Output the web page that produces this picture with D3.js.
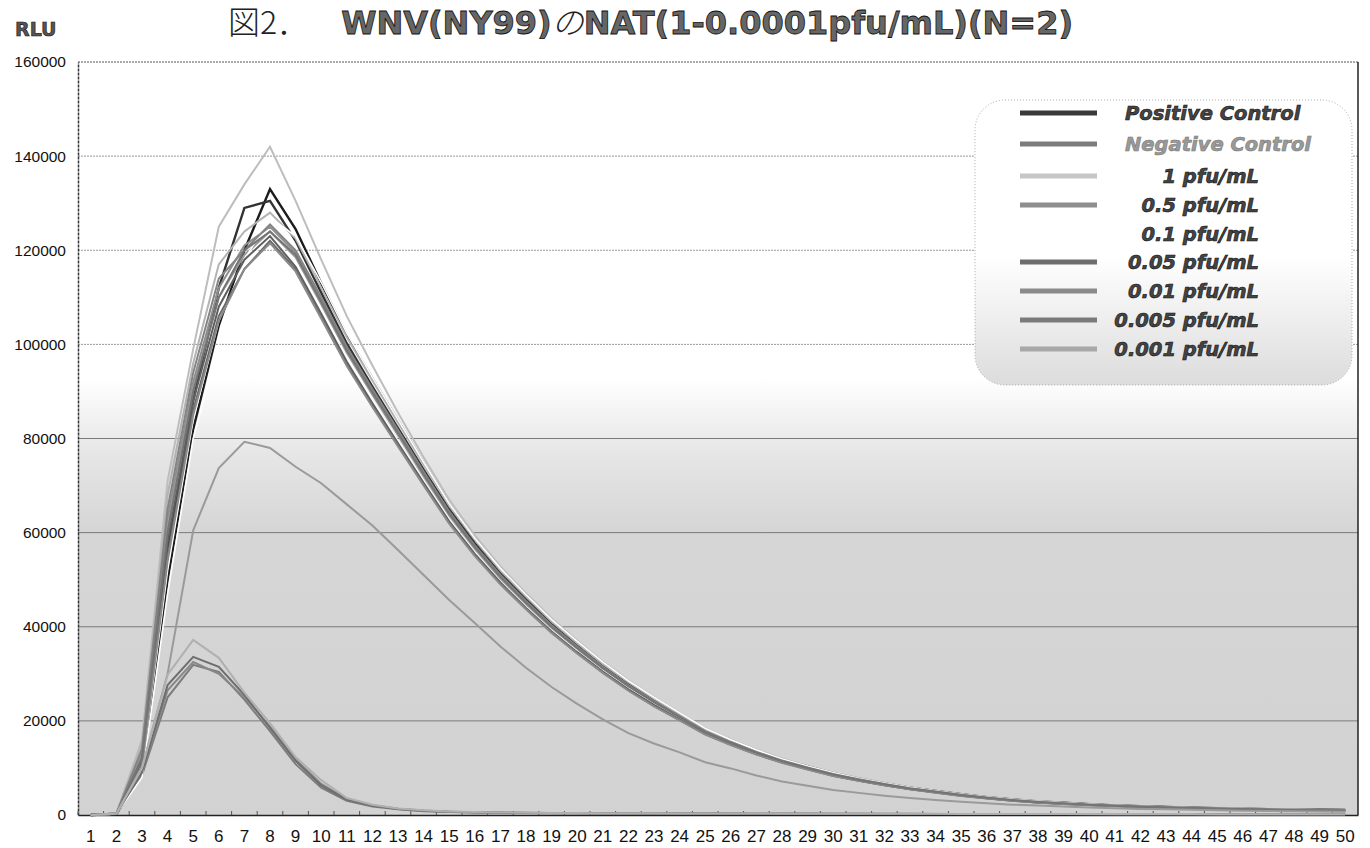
<!DOCTYPE html>
<html>
<head>
<meta charset="utf-8">
<script src="https://cdn.jsdelivr.net/npm/d3@7"></script>
<style>
  body { margin: 0; background: #fff; }
  svg { display: block; }
</style>
</head>
<body>
<svg id="chart" width="1370" height="848"></svg>
<script>
// cycles on the x axis
var cycles = d3.range(1, 51);
var yTicks = [0, 20000, 40000, 60000, 80000, 100000, 120000, 140000, 160000];

// RLU readings (two runs per sample)
var posA = [0, 200, 9000, 50000, 82000, 104000, 120000, 133000, 124500, 113000, 102000, 92800, 83800, 74800, 66000, 58600, 52200, 46600, 41300, 36700, 32300, 28300, 24800, 21500, 18200, 15900, 13700, 11800, 10300, 8900, 7700, 6700, 5800, 5100, 4400, 3800, 3300, 2900, 2600, 2300, 2050, 1850, 1700, 1550, 1450, 1350, 1250, 1150, 1100, 1050];
var posB = [0, 250, 11000, 56000, 88000, 112000, 129000, 130500, 122000, 111000, 100200, 91000, 82200, 73400, 64900, 57700, 51300, 45800, 40600, 36000, 31700, 27800, 24400, 21100, 17900, 15600, 13500, 11700, 10200, 8800, 7650, 6650, 5750, 5000, 4300, 3750, 3250, 2850, 2500, 2250, 2000, 1800, 1650, 1500, 1400, 1300, 1200, 1100, 1050, 1000];
var negA = [0, 250, 8500, 25000, 31900, 30400, 24500, 17800, 10800, 5800, 3000, 1800, 1200, 800, 620, 520, 460, 420, 390, 360, 340, 320, 300, 290, 280, 270, 260, 250, 240, 235, 230, 225, 220, 215, 210, 205, 200, 195, 190, 185, 180, 175, 170, 165, 160, 155, 150, 150, 145, 140];
var negB = [0, 250, 8800, 26500, 32500, 30000, 25000, 18800, 11800, 6600, 3400, 2100, 1350, 950, 700, 580, 500, 450, 410, 380, 360, 340, 320, 305, 295, 285, 275, 265, 255, 248, 240, 233, 226, 220, 214, 208, 202, 197, 192, 187, 182, 177, 172, 167, 163, 159, 155, 151, 147, 143];
var p1A = [0, 300, 16000, 71000, 99000, 125000, 134000, 142000, 130500, 118000, 106000, 95500, 85500, 76000, 67000, 59400, 52800, 47100, 41800, 37100, 32600, 28600, 25000, 21700, 18400, 16000, 13900, 12000, 10400, 9000, 7850, 6850, 5900, 5150, 4450, 3850, 3350, 2950, 2600, 2300, 2050, 1850, 1700, 1550, 1450, 1350, 1250, 1150, 1100, 1050];
var p1B = [0, 300, 15000, 68000, 96000, 117000, 124000, 128000, 122500, 112000, 101500, 92300, 83400, 74500, 65800, 58500, 52000, 46400, 41100, 36500, 32100, 28200, 24700, 21400, 18100, 15800, 13650, 11800, 10250, 8850, 7700, 6700, 5800, 5050, 4350, 3780, 3280, 2880, 2550, 2280, 2020, 1820, 1680, 1530, 1420, 1320, 1220, 1120, 1070, 1020];
var p05A = [0, 250, 13000, 63000, 92000, 112000, 121000, 125000, 119500, 109500, 99000, 90000, 81300, 72600, 64200, 57000, 50700, 45300, 40100, 35600, 31300, 27500, 24100, 20900, 17700, 15400, 13300, 11500, 10000, 8650, 7550, 6550, 5650, 4950, 4250, 3680, 3180, 2780, 2480, 2180, 1980, 1780, 1630, 1480, 1380, 1280, 1180, 1080, 1030, 980];
var p05B = [0, 250, 12500, 61000, 91000, 110000, 119000, 124000, 118500, 108500, 98200, 89300, 80700, 72000, 63700, 56600, 50300, 44900, 39800, 35300, 31000, 27200, 23900, 20700, 17500, 15250, 13200, 11400, 9900, 8550, 7450, 6480, 5600, 4900, 4200, 3650, 3150, 2750, 2450, 2150, 1950, 1760, 1610, 1460, 1360, 1260, 1160, 1060, 1010, 960];
var p01A = [0, 200, 8000, 47000, 80000, 100000, 118000, 127000, 123000, 113200, 102400, 93000, 84000, 75000, 66200, 58800, 52400, 46800, 41500, 36900, 32500, 28500, 25000, 21700, 18400, 16000, 13800, 11900, 10350, 8950, 7750, 6750, 5850, 5100, 4400, 3800, 3300, 2900, 2600, 2300, 2050, 1850, 1700, 1550, 1450, 1350, 1250, 1150, 1100, 1050];
var p01B = [0, 200, 10000, 52000, 84000, 105000, 117000, 123000, 117000, 107000, 96800, 88000, 79500, 71000, 62800, 55800, 49600, 44200, 39200, 34800, 30700, 26900, 23600, 20500, 17400, 15100, 13100, 11300, 9850, 8450, 7400, 6400, 5550, 4850, 4150, 3600, 3100, 2700, 2400, 2150, 1950, 1750, 1600, 1450, 1350, 1250, 1150, 1050, 1000, 950];
var p005A = [0, 250, 12000, 58000, 88000, 108000, 118000, 123000, 116500, 106500, 96300, 87500, 79000, 70600, 62400, 55500, 49400, 44000, 39000, 34600, 30500, 26700, 23400, 20300, 17300, 15000, 13000, 11250, 9800, 8400, 7350, 6380, 5520, 4820, 4120, 3580, 3080, 2680, 2380, 2130, 1930, 1730, 1580, 1430, 1330, 1230, 1130, 1040, 990, 940];
var p005B = [0, 250, 11000, 55000, 86000, 106000, 116000, 122000, 116000, 106000, 95800, 87000, 78600, 70200, 62100, 55200, 49100, 43800, 38800, 34400, 30300, 26500, 23200, 20200, 17200, 14900, 12900, 11150, 9700, 8350, 7300, 6330, 5480, 4780, 4080, 3550, 3050, 2650, 2350, 2100, 1900, 1700, 1560, 1410, 1310, 1210, 1110, 1020, 970, 920];
var p001A = [0, 300, 14000, 65000, 94000, 114000, 120000, 125500, 120000, 110000, 99500, 90500, 81800, 73000, 64500, 57300, 51000, 45500, 40300, 35800, 31500, 27600, 24200, 21000, 17800, 15500, 13400, 11600, 10100, 8700, 7600, 6600, 5700, 5000, 4300, 3700, 3200, 2800, 2500, 2200, 2000, 1800, 1650, 1500, 1400, 1300, 1200, 1100, 1050, 1000];
var p001B = [0, 200, 10500, 54000, 85000, 105000, 116000, 121500, 115500, 105500, 95400, 86700, 78300, 70000, 61900, 55000, 49000, 43700, 38700, 34300, 30200, 26400, 23100, 20100, 17100, 14850, 12850, 11100, 9650, 8300, 7250, 6300, 5450, 4750, 4050, 3520, 3020, 2620, 2330, 2080, 1880, 1690, 1550, 1400, 1300, 1200, 1100, 1010, 960, 910];
var p0005A = [0, 250, 12000, 60000, 90000, 110000, 120000, 124000, 119000, 109000, 98700, 89800, 81100, 72400, 64000, 56900, 50600, 45100, 40000, 35500, 31200, 27400, 24000, 20800, 17600, 15350, 13250, 11450, 10000, 8600, 7500, 6520, 5620, 4930, 4230, 3660, 3160, 2770, 2470, 2170, 1970, 1770, 1620, 1470, 1370, 1270, 1170, 1070, 1020, 970];
var p0005B = [0, 300, 9000, 27600, 33600, 31500, 25500, 18500, 11500, 6300, 3300, 2000, 1300, 900, 700, 600, 520, 470, 430, 400, 380, 360, 340, 325, 310, 300, 290, 282, 272, 263, 255, 247, 240, 233, 228, 222, 216, 211, 206, 201, 196, 191, 187, 183, 179, 175, 171, 167, 163, 160];
var p0001A = [0, 300, 10000, 30000, 60500, 73700, 79300, 78000, 74000, 70500, 66000, 61500, 56300, 51000, 45700, 40800, 35800, 31300, 27200, 23600, 20300, 17400, 15200, 13300, 11200, 9900, 8400, 7100, 6200, 5300, 4700, 4100, 3600, 3200, 2800, 2500, 2200, 2000, 1800, 1600, 1450, 1300, 1200, 1100, 1000, 900, 850, 800, 750, 700];
var p0001B = [0, 300, 10000, 29800, 37200, 33400, 26000, 19500, 12300, 7400, 3600, 2200, 1400, 1000, 750, 620, 540, 480, 440, 410, 390, 370, 350, 332, 318, 306, 296, 286, 277, 268, 260, 253, 246, 240, 234, 228, 223, 218, 213, 208, 203, 198, 194, 190, 186, 182, 178, 174, 170, 166];

// legend entries
var legendNames = ["Positive Control", "Negative Control", "1 pfu/mL", "0.5 pfu/mL", "0.1 pfu/mL",
                   "0.05 pfu/mL", "0.01 pfu/mL", "0.005 pfu/mL", "0.001 pfu/mL"];
var legendColors = ["#3a3a3a", "#7c7c7c", "#c6c6c6", "#8e8e8e", "#ffffff", "#6e6e6e", "#8a8a8a", "#7a7a7a", "#a8a8a8"];

var series = [
    {name: "Positive Control", values: posA, color: "#1c1c1c", w: 2.4},
    {name: "Positive Control", values: posB, color: "#333333", w: 2.4},
    {name: "Negative Control", values: negA, color: "#7c7c7c", w: 2},
    {name: "Negative Control", values: negB, color: "#888888", w: 2},
    {name: "1 pfu/mL", values: p1A, color: "#bdbdbd", w: 2},
    {name: "1 pfu/mL", values: p1B, color: "#b3b3b3", w: 2},
    {name: "0.5 pfu/mL", values: p05A, color: "#8e8e8e", w: 2},
    {name: "0.5 pfu/mL", values: p05B, color: "#999999", w: 2},
    {name: "0.1 pfu/mL", values: p01A, color: "#ffffff", w: 1.6},
    {name: "0.1 pfu/mL", values: p01B, color: "#ffffff", w: 1.6},
    {name: "0.05 pfu/mL", values: p005A, color: "#5e5e5e", w: 2},
    {name: "0.05 pfu/mL", values: p005B, color: "#6a6a6a", w: 2},
    {name: "0.01 pfu/mL", values: p001A, color: "#848484", w: 2},
    {name: "0.01 pfu/mL", values: p001B, color: "#8a8a8a", w: 2},
    {name: "0.005 pfu/mL", values: p0005A, color: "#747474", w: 2},
    {name: "0.005 pfu/mL", values: p0005B, color: "#6e6e6e", w: 2},
    {name: "0.001 pfu/mL", values: p0001A, color: "#9a9a9a", w: 2},
    {name: "0.001 pfu/mL", values: p0001B, color: "#b0b0b0", w: 2}
];

var plotLeft = 78, plotRight = 1358, plotTop = 62, plotBottom = 815;
var svg = d3.select("#chart");

var x = d3.scaleBand().domain(cycles).range([plotLeft, plotRight]);
var y = d3.scaleLinear().domain([0, 160000]).range([plotBottom, plotTop]);
function cx(c) { return x(c) + x.bandwidth() / 2; }

var defs = svg.append("defs");
var bg = defs.append("linearGradient").attr("id", "plotbg")
    .attr("x1", 0).attr("y1", 0).attr("x2", 0).attr("y2", 1);
bg.append("stop").attr("offset", "0").attr("stop-color", "#ffffff");
bg.append("stop").attr("offset", "0.42").attr("stop-color", "#ffffff");
bg.append("stop").attr("offset", "0.52").attr("stop-color", "#e6e6e6");
bg.append("stop").attr("offset", "0.62").attr("stop-color", "#d6d6d6");
bg.append("stop").attr("offset", "1").attr("stop-color", "#d2d2d2");

var lg = defs.append("linearGradient").attr("id", "legbg")
    .attr("x1", 0).attr("y1", 0).attr("x2", 0).attr("y2", 1);
lg.append("stop").attr("offset", "0").attr("stop-color", "#ffffff");
lg.append("stop").attr("offset", "0.55").attr("stop-color", "#ffffff");
lg.append("stop").attr("offset", "1").attr("stop-color", "#dcdcdc");

// plot area
svg.append("rect")
    .attr("x", plotLeft).attr("y", plotTop)
    .attr("width", plotRight - plotLeft).attr("height", plotBottom - plotTop)
    .attr("fill", "url(#plotbg)");

// gridlines
svg.append("g").selectAll("line")
    .data(yTicks.filter(function(d) { return d > 0 && d < 160000; }))
    .enter().append("line")
    .attr("x1", plotLeft).attr("x2", plotRight)
    .attr("y1", function(d) { return y(d); })
    .attr("y2", function(d) { return y(d); })
    .attr("stroke", function(d) { return d <= 80000 ? "#7a7a7a" : "#999"; })
    .attr("stroke-width", 1)
    .attr("stroke-dasharray", function(d) { return d <= 80000 ? null : "2,1"; });

// frame
svg.append("line").attr("x1", plotLeft).attr("x2", plotRight).attr("y1", plotTop).attr("y2", plotTop)
    .attr("stroke", "#555").attr("stroke-dasharray", "2,1");
svg.append("line").attr("x1", plotRight).attr("x2", plotRight).attr("y1", plotTop).attr("y2", plotBottom)
    .attr("stroke", "#222").attr("stroke-width", 1.5);

// axes
var yAxis = d3.axisLeft(y).tickValues(yTicks).tickSize(0).tickPadding(12)
    .tickFormat(d3.format("d"));
var gy = svg.append("g").attr("transform", "translate(" + plotLeft + ",0)").call(yAxis);
gy.select(".domain").attr("stroke", "#333").attr("stroke-width", 1.5).attr("stroke-dasharray", "3,1");
gy.selectAll("text")
    .attr("font-family", "'Liberation Sans', Arial, sans-serif")
    .attr("font-size", 15.5).attr("fill", "#111");

var xAxis = d3.axisBottom(x).tickSize(0).tickPadding(15);
var gx = svg.append("g").attr("transform", "translate(0," + plotBottom + ")").call(xAxis);
gx.select(".domain").attr("stroke", "#222").attr("stroke-width", 1.5);
gx.selectAll("text")
    .attr("font-family", "'Liberation Sans Narrow', 'Arial Narrow', sans-serif")
    .attr("font-size", 17).attr("fill", "#111");

// small category ticks along the bottom
svg.append("g").selectAll("line")
    .data(cycles)
    .enter().append("line")
    .attr("x1", function(d) { return x(d); }).attr("x2", function(d) { return x(d); })
    .attr("y1", plotBottom).attr("y2", plotBottom - 4)
    .attr("stroke", "#555");

// lines
var line = d3.line()
    .x(function(d, i) { return cx(cycles[i]); })
    .y(function(d) { return y(d); });

svg.append("g").selectAll("path")
    .data(series)
    .enter().append("path")
    .attr("d", function(d) { return line(d.values); })
    .attr("fill", "none")
    .attr("stroke", function(d) { return d.color; })
    .attr("stroke-width", function(d) { return d.w; })
    .attr("stroke-linejoin", "miter");

// legend
var leg = svg.append("g");
leg.append("rect")
    .attr("x", 975).attr("y", 100).attr("width", 377).attr("height", 285)
    .attr("rx", 30).attr("ry", 30)
    .attr("fill", "url(#legbg)")
    .attr("stroke", "#aaa").attr("stroke-dasharray", "1,2");

var legY = [113, 144, 176, 205, 234, 262, 291, 320, 349];
var rows = leg.selectAll("g.row")
    .data(legendNames)
    .enter().append("g").attr("class", "row")
    .attr("transform", function(d, i) { return "translate(0," + legY[i] + ")"; });

rows.append("line")
    .attr("x1", 1020).attr("x2", 1097).attr("y1", 0).attr("y2", 0)
    .attr("stroke", function(d, i) { return legendColors[i]; })
    .attr("stroke-width", 5);

rows.append("text")
    .attr("x", function(d, i) { return i < 2 ? 1125 : 1259; })
    .attr("text-anchor", function(d, i) { return i < 2 ? "start" : "end"; })
    .attr("dy", "0.36em")
    .attr("font-family", "'DejaVu Sans', sans-serif")
    .attr("font-weight", "bold").attr("font-style", "italic")
    .attr("font-size", 19.5)
    .attr("fill", function(d, i) { return i == 1 ? "#9a9a9a" : "#444"; })
    .attr("stroke", function(d, i) { return i == 1 ? "#777" : "#111"; })
    .attr("stroke-width", 0.6)
    .text(function(d) { return d; });

// titles
svg.append("text")
    .attr("x", 15).attr("y", 36)
    .attr("font-family", "'DejaVu Sans', sans-serif")
    .attr("font-weight", "bold").attr("font-size", 19)
    .attr("fill", "#555").attr("stroke", "#111").attr("stroke-width", 0.6)
    .text("RLU");

var title = svg.append("text")
    .attr("x", 228).attr("y", 34)
    .attr("font-size", 32);
title.append("tspan")
    .attr("font-family", "'Noto Sans CJK JP', sans-serif")
    .attr("font-weight", 300).attr("fill", "#222")
    .text("図2．");
title.append("tspan")
    .attr("dx", 32)
    .attr("font-family", "'DejaVu Sans', sans-serif").attr("font-weight", "bold")
    .attr("fill", "#666").attr("stroke", "#111").attr("stroke-width", 0.8)
    .text("WNV(NY99)");
title.append("tspan")
    .attr("font-family", "'Noto Sans CJK JP', sans-serif")
    .attr("font-weight", 300).attr("font-style", "italic").attr("fill", "#222")
    .text("の");
title.append("tspan")
    .attr("font-family", "'DejaVu Sans', sans-serif").attr("font-weight", "bold")
    .attr("fill", "#666").attr("stroke", "#111").attr("stroke-width", 0.8)
    .text("NAT(1-0.0001pfu/mL)(N=2)");
</script>
</body>
</html>
